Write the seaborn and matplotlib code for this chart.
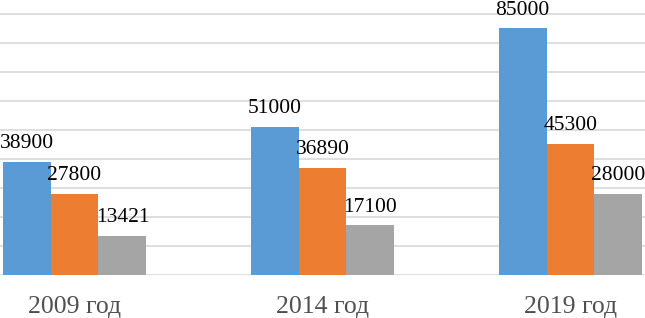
import matplotlib
matplotlib.use("Agg")
import matplotlib.pyplot as plt
import seaborn as sb
import pandas as pd

years = ["2009 год", "2014 год", "2019 год"]
series_names = ["Ряд 1", "Ряд 2", "Ряд 3"]
series_1 = [38900, 51000, 85000]
series_2 = [27800, 36890, 45300]
series_3 = [13421, 17100, 28000]
colors = ["#5B9BD5", "#ED7D31", "#A5A5A5"]


def build_frame():
    rows = []
    for name, values in zip(series_names, [series_1, series_2, series_3]):
        for year, value in zip(years, values):
            rows.append({"year": year, "series": name, "value": value})
    return pd.DataFrame(rows)


def main():
    sb.set_style("white")
    plt.rcParams["font.family"] = ["Liberation Serif", "DejaVu Serif"]

    data = build_frame()
    fig = plt.figure(figsize=(6.45, 3.18), dpi=100)
    # axes bottom = baseline of bars, spans whole width (chart is cropped)
    ax = fig.add_axes([0, 1 - 275 / 318, 1, 275 / 318])

    sb.barplot(data=data, x="year", y="value", hue="series",
               palette=colors, width=0.58, saturation=1, linewidth=0,
               legend=False, ax=ax, errorbar=None)

    ax.set_xlim(-74.5 / 248, (645 - 74.5) / 248)
    ax.set_ylim(0, 275 / 29 * 10000)
    ax.set_yticks(range(0, 90001, 10000))
    ax.set_yticklabels([])
    ax.yaxis.grid(True, color="#D9D9D9", linewidth=1.2)
    ax.set_axisbelow(True)
    for s in ax.spines.values():
        s.set_visible(False)

    ax.set_xlabel("")
    ax.set_ylabel("")
    ax.tick_params(axis="both", length=0)
    ax.tick_params(axis="x", pad=15, labelsize=18.5, labelcolor="#505050")

    for cont in ax.containers:
        for bar in cont:
            h = bar.get_height()
            ax.annotate(f"{int(h)}",
                        (bar.get_x() + bar.get_width() / 2, h),
                        xytext=(0, 10), textcoords="offset points",
                        ha="center", va="baseline", fontsize=15.5,
                        color="#000000")

    fig.savefig("out.png", dpi=100)


if __name__ == "__main__":
    main()
